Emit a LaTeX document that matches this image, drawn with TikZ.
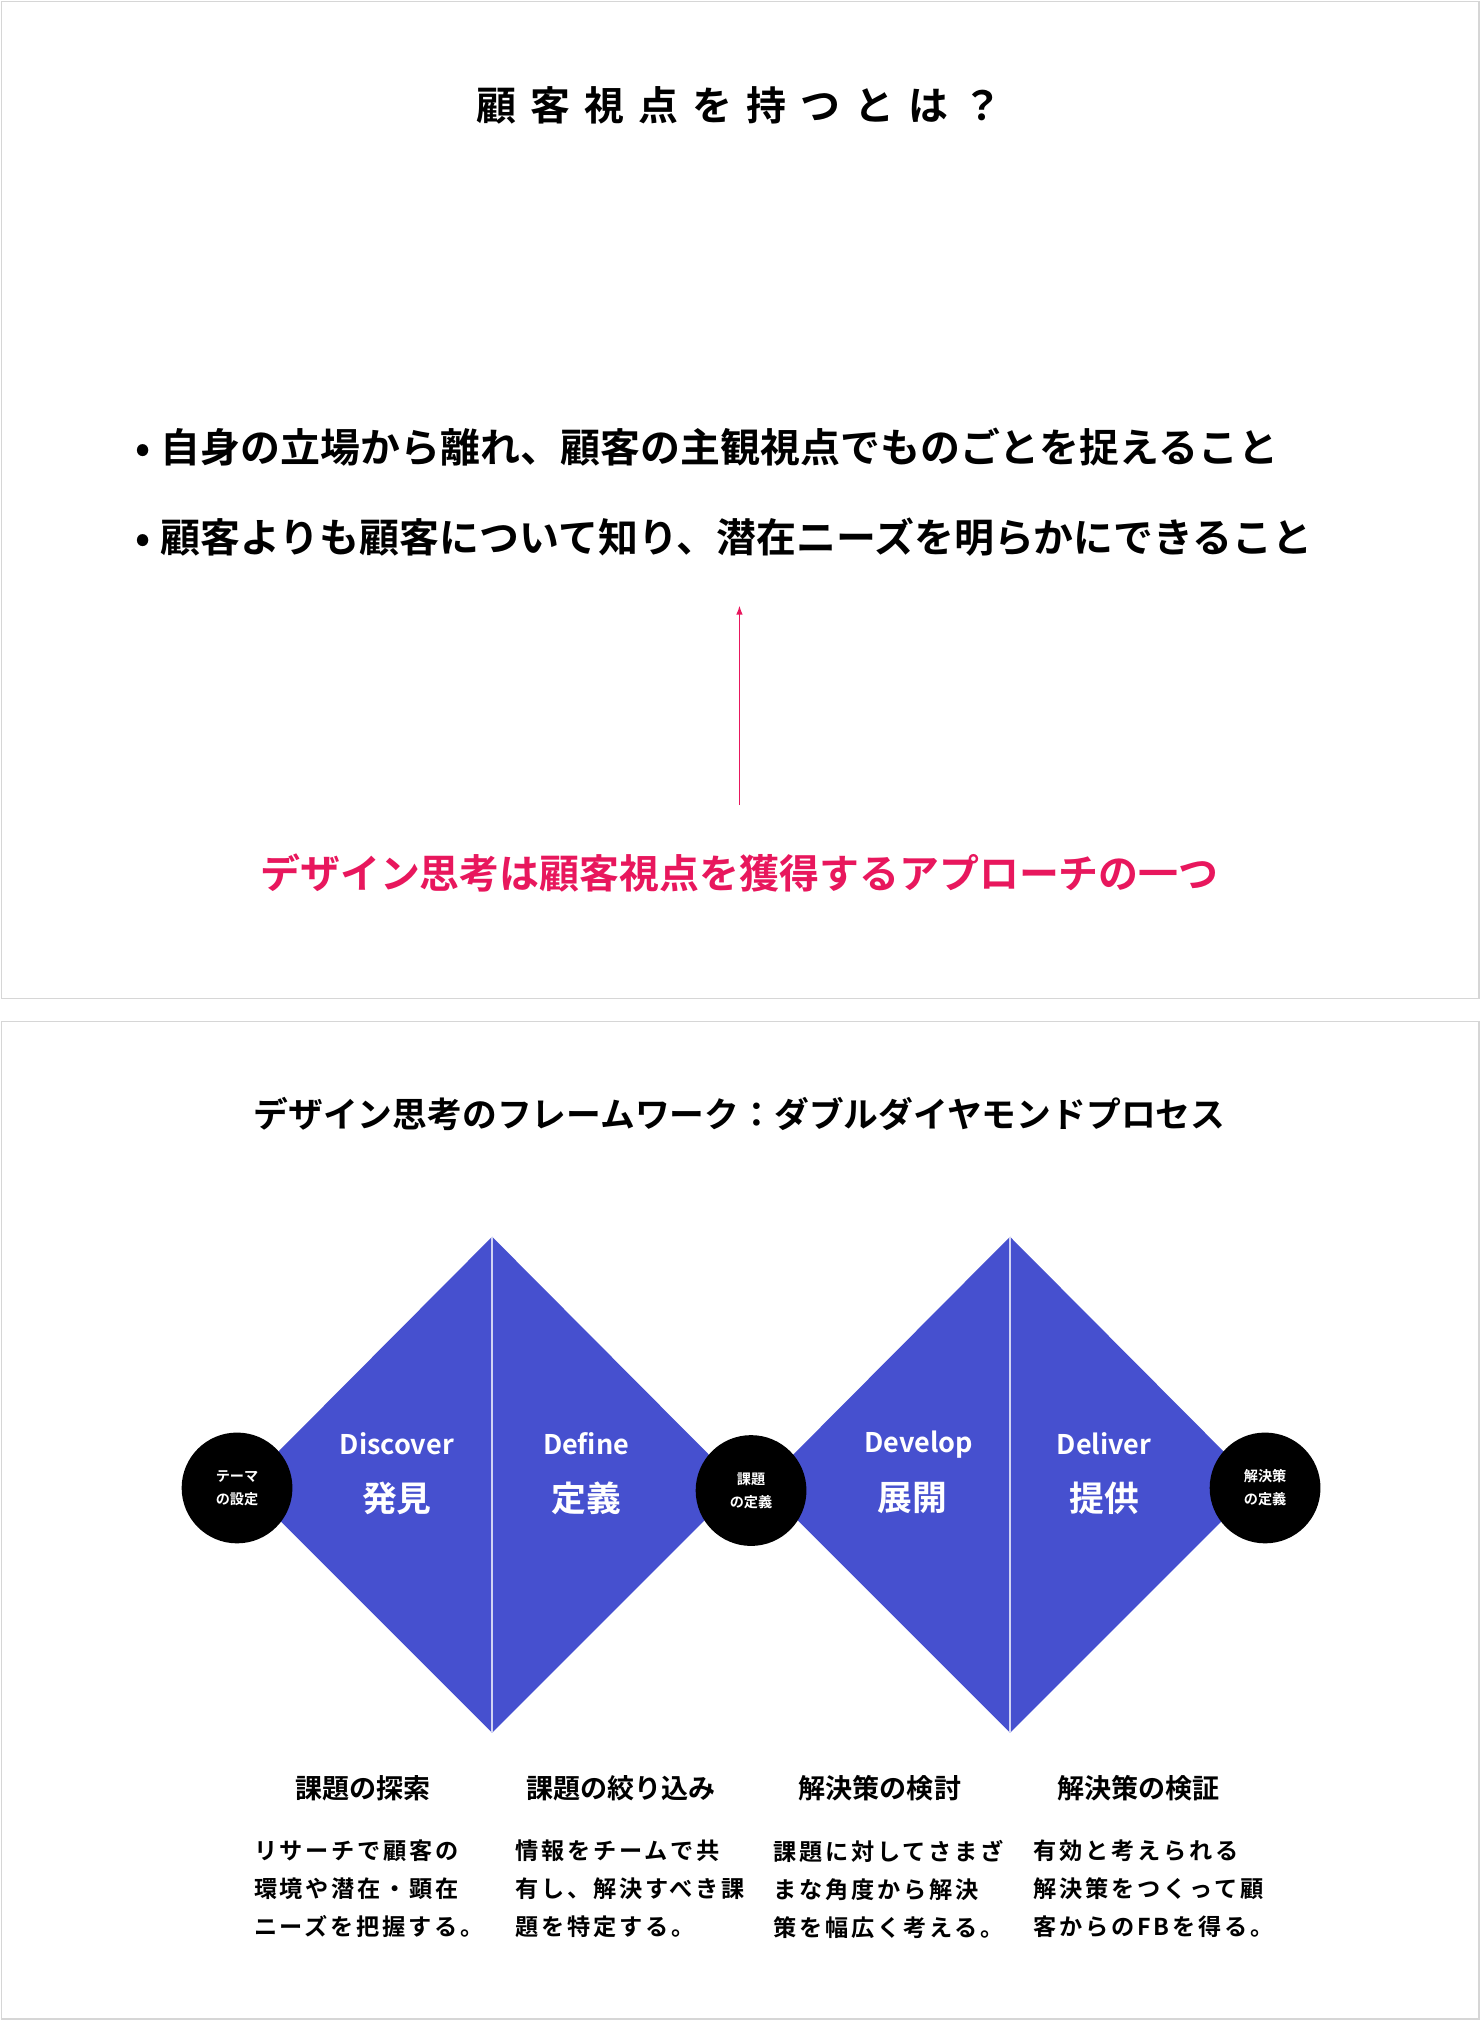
\documentclass[tikz,border=0pt]{standalone}
\usepackage{fontspec}
\usetikzlibrary{arrows.meta}
\setmainfont{Noto Sans CJK JP}[BoldFont={* Bold}]
\newfontfamily\jb{Noto Sans CJK JP Bold}
\definecolor{dblue}{HTML}{4650CF}
\definecolor{dpink}{HTML}{E8175D}
\definecolor{frame}{HTML}{D6D6D6}
\begin{document}
\begin{tikzpicture}[x=1pt,y=-1pt,
  panel/.style={draw=frame,line width=1.2pt,fill=white},
  big/.style={font=\jb\fontsize{31}{36}\selectfont,anchor=west,inner sep=0},
  dot/.style={circle,fill=black,minimum size=86pt,inner sep=0,text=white,align=center,font=\jb\fontsize{11}{18}\selectfont},
  en/.style={text=white,font=\jb\fontsize{21}{24}\selectfont,inner sep=0},
  ja/.style={text=white,font=\jb\fontsize{27}{30}\selectfont,inner sep=0},
  head/.style={font=\jb\fontsize{21}{24}\selectfont,inner sep=0},
  desc/.style={font=\jb\addfontfeature{LetterSpace=12}\fontsize{18}{29.5}\selectfont,align=left,anchor=north west,inner sep=0}]
\useasboundingbox (0,0) rectangle (1149,1568);
\fill[white] (0,0) rectangle (1149,1568);
\draw[panel] (1,1) rectangle (1148,775);
\draw[panel] (1,793) rectangle (1148,1567);
% top panel
\node[font=\jb\addfontfeature{LetterSpace=35}\fontsize{31}{36}\selectfont] (title) at (574,82) {顧客視点を持つとは？};
\node[big] (b1) at (105,347) {•\hspace{8pt}自身の立場から離れ、顧客の主観視点でものごとを捉えること};
\node[big] (b2) at (105,417) {•\hspace{8pt}顧客よりも顧客について知り、潜在ニーズを明らかにできること};
\node[font=\jb\fontsize{31}{36}\selectfont,text=dpink] (dt) at (574,678) {デザイン思考は顧客視点を獲得するアプローチの一つ};
\coordinate (as) at (574,625);
\coordinate (ae) at (574,470);
\draw[dpink,line width=1.1pt,-{Latex[length=7pt,width=5pt]}] (as) -- (ae);
% bottom panel
\node[font=\jb\fontsize{27}{32}\selectfont] (t2) at (574,865) {デザイン思考のフレームワーク：ダブルダイヤモンドプロセス};
\fill[dblue] (190,1153) -- (382,960) -- (574,1153) -- (382,1345) -- cycle;
\fill[dblue] (592,1153) -- (784,960) -- (976,1153) -- (784,1345) -- cycle;
\draw[white!75!dblue,line width=1pt] (382,960) -- (382,1345);
\draw[white!75!dblue,line width=1pt] (784,960) -- (784,1345);
\node[dot] (c1) at (184,1155) {テーマ\\の設定};
\node[dot] (c2) at (583,1157) {課題\\の定義};
\node[dot] (c3) at (982,1155) {解決策\\の定義};
\node[en] (e1) at (308,1121) {Discover};
\node[ja] (j1) at (308,1163) {発見};
\node[en] (e2) at (455,1121) {Define};
\node[ja] (j2) at (455,1163) {定義};
\node[en] (e3) at (713,1121) {Develop};
\node[ja] (j3) at (708,1163) {展開};
\node[en] (e4) at (857,1121) {Deliver};
\node[ja] (j4) at (857,1163) {提供};
\node[head] (h1) at (282,1388) {課題の探索};
\node[head] (h2) at (482,1388) {課題の絞り込み};
\node[head] (h3) at (683,1388) {解決策の検討};
\node[head] (h4) at (884,1388) {解決策の検証};
\node[desc] (d1) at (197,1428) {リサーチで顧客の\\環境や潜在・顕在\\ニーズを把握する。};
\node[desc] (d2) at (400,1428) {情報をチームで共\\有し、解決すべき課\\題を特定する。};
\node[desc] (d3) at (600,1428) {課題に対してさまざ\\まな角度から解決\\策を幅広く考える。};
\node[desc] (d4) at (802,1428) {有効と考えられる\\解決策をつくって顧\\客からのFBを得る。};
\end{tikzpicture}
\end{document}
